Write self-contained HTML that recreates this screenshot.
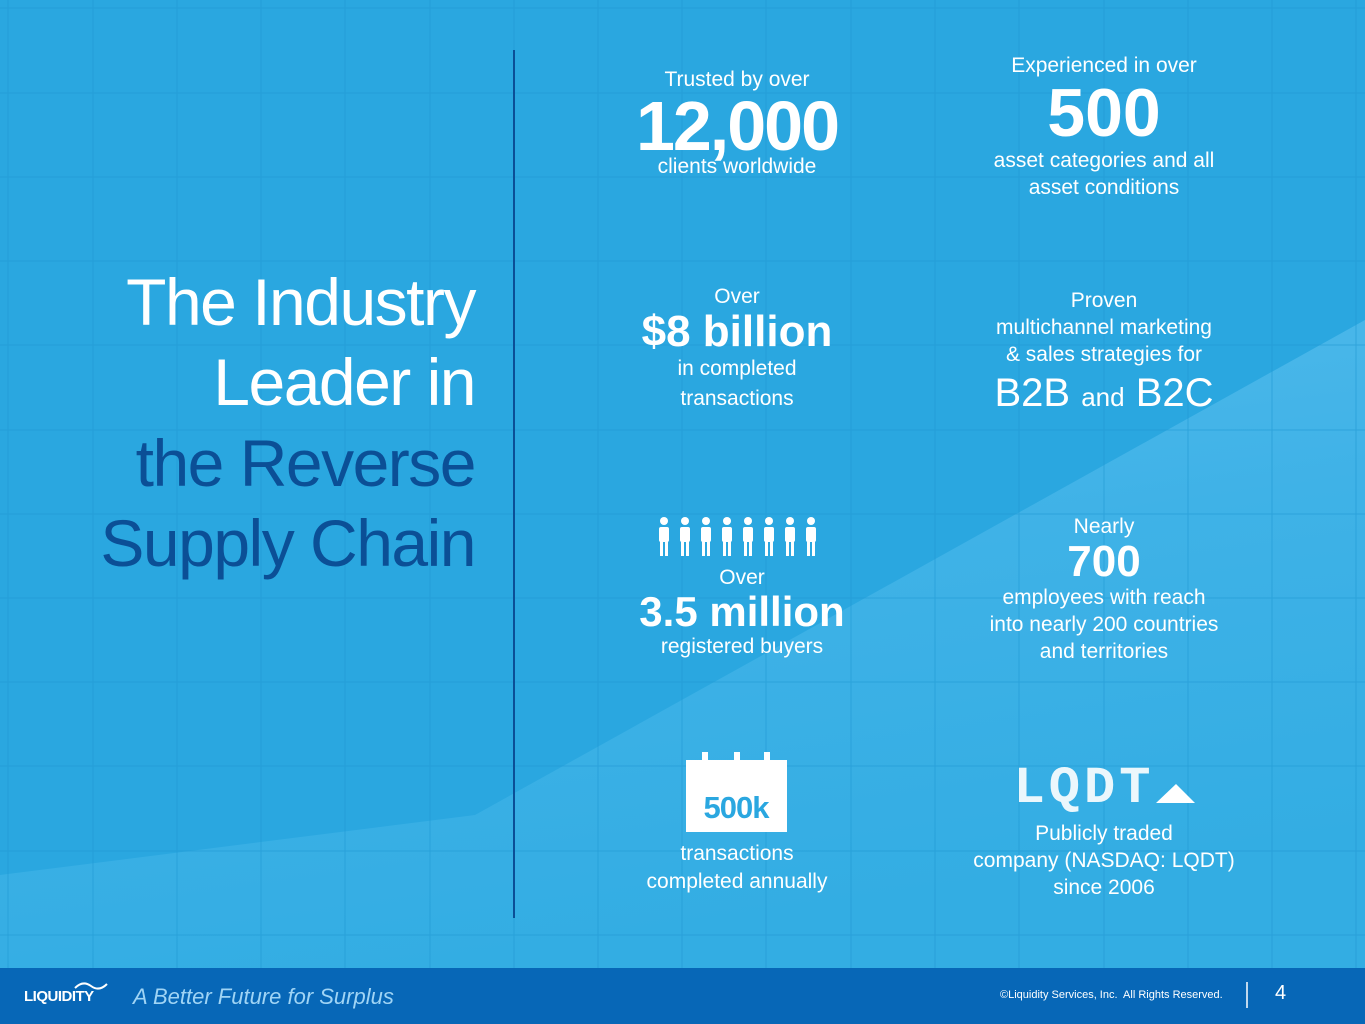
<!DOCTYPE html>
<html><head><meta charset="utf-8"><style>
body{margin:0;width:1365px;height:1024px;overflow:hidden;font-family:"Liberation Sans",sans-serif;}
#bg{position:absolute;left:0;top:0;width:1365px;height:1024px;background:#2aa7e0;}
.t{position:absolute;color:#fff;text-align:center;font-weight:bold;white-space:nowrap;}
.s{font-size:21px;line-height:27px;font-weight:normal;}
.h{position:absolute;font-size:66px;line-height:80px;text-align:right;right:890px;letter-spacing:-1.5px;white-space:nowrap;}
</style></head><body>
<div id="bg"></div>
<svg width="1365" height="1024" style="position:absolute;left:0;top:0">
<defs><linearGradient id="g" x1="0" y1="0" x2="0.3" y2="1">
<stop offset="0" stop-color="#55bcec"/><stop offset="0.5" stop-color="#3fb2e7"/><stop offset="1" stop-color="#33ade3"/></linearGradient></defs>
<polygon points="0,875 475,815 1365,320 1365,968 0,968" fill="url(#g)"/>
<g stroke="#2199d4" stroke-width="1" opacity="0.6">
<line x1="8" y1="0" x2="8" y2="968"/><line x1="93" y1="0" x2="93" y2="968"/><line x1="177" y1="0" x2="177" y2="968"/><line x1="261" y1="0" x2="261" y2="968"/><line x1="345" y1="0" x2="345" y2="968"/><line x1="430" y1="0" x2="430" y2="968"/><line x1="514" y1="0" x2="514" y2="968"/><line x1="598" y1="0" x2="598" y2="968"/><line x1="682" y1="0" x2="682" y2="968"/><line x1="766" y1="0" x2="766" y2="968"/><line x1="851" y1="0" x2="851" y2="968"/><line x1="935" y1="0" x2="935" y2="968"/><line x1="1019" y1="0" x2="1019" y2="968"/><line x1="1104" y1="0" x2="1104" y2="968"/><line x1="1188" y1="0" x2="1188" y2="968"/><line x1="1272" y1="0" x2="1272" y2="968"/><line x1="1356" y1="0" x2="1356" y2="968"/>
<line x1="0" y1="8" x2="1365" y2="8"/><line x1="0" y1="93" x2="1365" y2="93"/><line x1="0" y1="177" x2="1365" y2="177"/><line x1="0" y1="261" x2="1365" y2="261"/><line x1="0" y1="345" x2="1365" y2="345"/><line x1="0" y1="430" x2="1365" y2="430"/><line x1="0" y1="514" x2="1365" y2="514"/><line x1="0" y1="598" x2="1365" y2="598"/><line x1="0" y1="682" x2="1365" y2="682"/><line x1="0" y1="766" x2="1365" y2="766"/><line x1="0" y1="851" x2="1365" y2="851"/><line x1="0" y1="935" x2="1365" y2="935"/>
</g>
<line x1="514" y1="50" x2="514" y2="918" stroke="#0b4f96" stroke-width="2"/>
<g fill="#fff">
<g id="p"><circle cx="664" cy="521" r="4"/><rect x="659" y="527" width="10" height="15" rx="2"/><rect x="660" y="540" width="3" height="16"/><rect x="665" y="540" width="3" height="16"/></g>
<use href="#p" x="21"/><use href="#p" x="42"/><use href="#p" x="63"/><use href="#p" x="84"/><use href="#p" x="105"/><use href="#p" x="126"/><use href="#p" x="147"/>
<rect x="686" y="760" width="101" height="72"/>
<rect x="702" y="752" width="6" height="8"/><rect x="734" y="752" width="6" height="8"/><rect x="764" y="752" width="6" height="8"/>
<polygon points="1156,803 1176,784 1195,803"/>
</g>
<text x="736" y="818" font-family="Liberation Sans" font-weight="bold" font-size="31" fill="#2aa7e0" text-anchor="middle" letter-spacing="-1">500k</text>
<text x="1084" y="802" font-family="Liberation Mono" font-weight="bold" font-size="52" fill="#fff" text-anchor="middle" letter-spacing="4" opacity="0.9">LQDT</text>
<rect x="0" y="968" width="1365" height="56" fill="#0767b7"/>
<line x1="1247" y1="982" x2="1247" y2="1008" stroke="#fff" stroke-width="1.5"/>
<path d="M75,988 q8,-8 16,-2 q8,6 16,-2" stroke="#fff" stroke-width="2" fill="none"/>
</svg>
<div class="h" style="top:262px;color:#fff">The Industry</div>
<div class="h" style="top:342px;color:#fff">Leader in</div>
<div class="h" style="top:423px;color:#0b4f96">the Reverse</div>
<div class="h" style="top:503px;color:#0b4f96">Supply Chain</div>

<div class="t" style="left:587px;width:300px;top:66px"><div class="s">Trusted by over</div><div style="font-size:70px;line-height:66px;letter-spacing:-2px">12,000</div><div class="s" style="margin-top:-6px">clients worldwide</div></div>
<div class="t" style="left:954px;width:300px;top:52px"><div class="s">Experienced in over</div><div style="font-size:68px;line-height:68px">500</div><div class="s">asset categories and all<br>asset conditions</div></div>
<div class="t" style="left:587px;width:300px;top:283px"><div class="s">Over</div><div style="font-size:44px;line-height:44px">$8 billion</div><div class="s" style="line-height:30px">in completed<br>transactions</div></div>
<div class="t" style="left:954px;width:300px;top:287px"><div class="s">Proven<br>multichannel marketing<br>&amp; sales strategies for</div><div style="font-size:40px;line-height:50px;font-weight:normal">B2B <span style="font-size:26px">and</span> B2C</div></div>
<div class="t" style="left:592px;width:300px;top:564px"><div class="s">Over</div><div style="font-size:42px;line-height:42px">3.5 million</div><div class="s">registered buyers</div></div>
<div class="t" style="left:954px;width:300px;top:513px"><div class="s">Nearly</div><div style="font-size:44px;line-height:44px">700</div><div class="s">employees with reach<br>into nearly 200 countries<br>and territories</div></div>
<div class="t" style="left:587px;width:300px;top:840px"><div class="s" style="line-height:28px">transactions<br>completed annually</div></div>
<div class="t" style="left:954px;width:300px;top:820px"><div class="s">Publicly traded<br>company (NASDAQ: LQDT)<br>since 2006</div></div>

<div style="position:absolute;left:24px;top:988px;color:#fff;font-size:15px;font-weight:bold;letter-spacing:-0.5px">LIQUIDITY</div>
<div style="position:absolute;left:133px;top:984px;color:#9fd4f5;font-size:22px;font-style:italic">A Better Future for Surplus</div>
<div style="position:absolute;left:1000px;top:989px;color:#fff;font-size:11px">©Liquidity Services, Inc.&nbsp; All Rights Reserved.</div>
<div style="position:absolute;left:1275px;top:982px;color:#fff;font-size:20px">4</div>
</body></html>
